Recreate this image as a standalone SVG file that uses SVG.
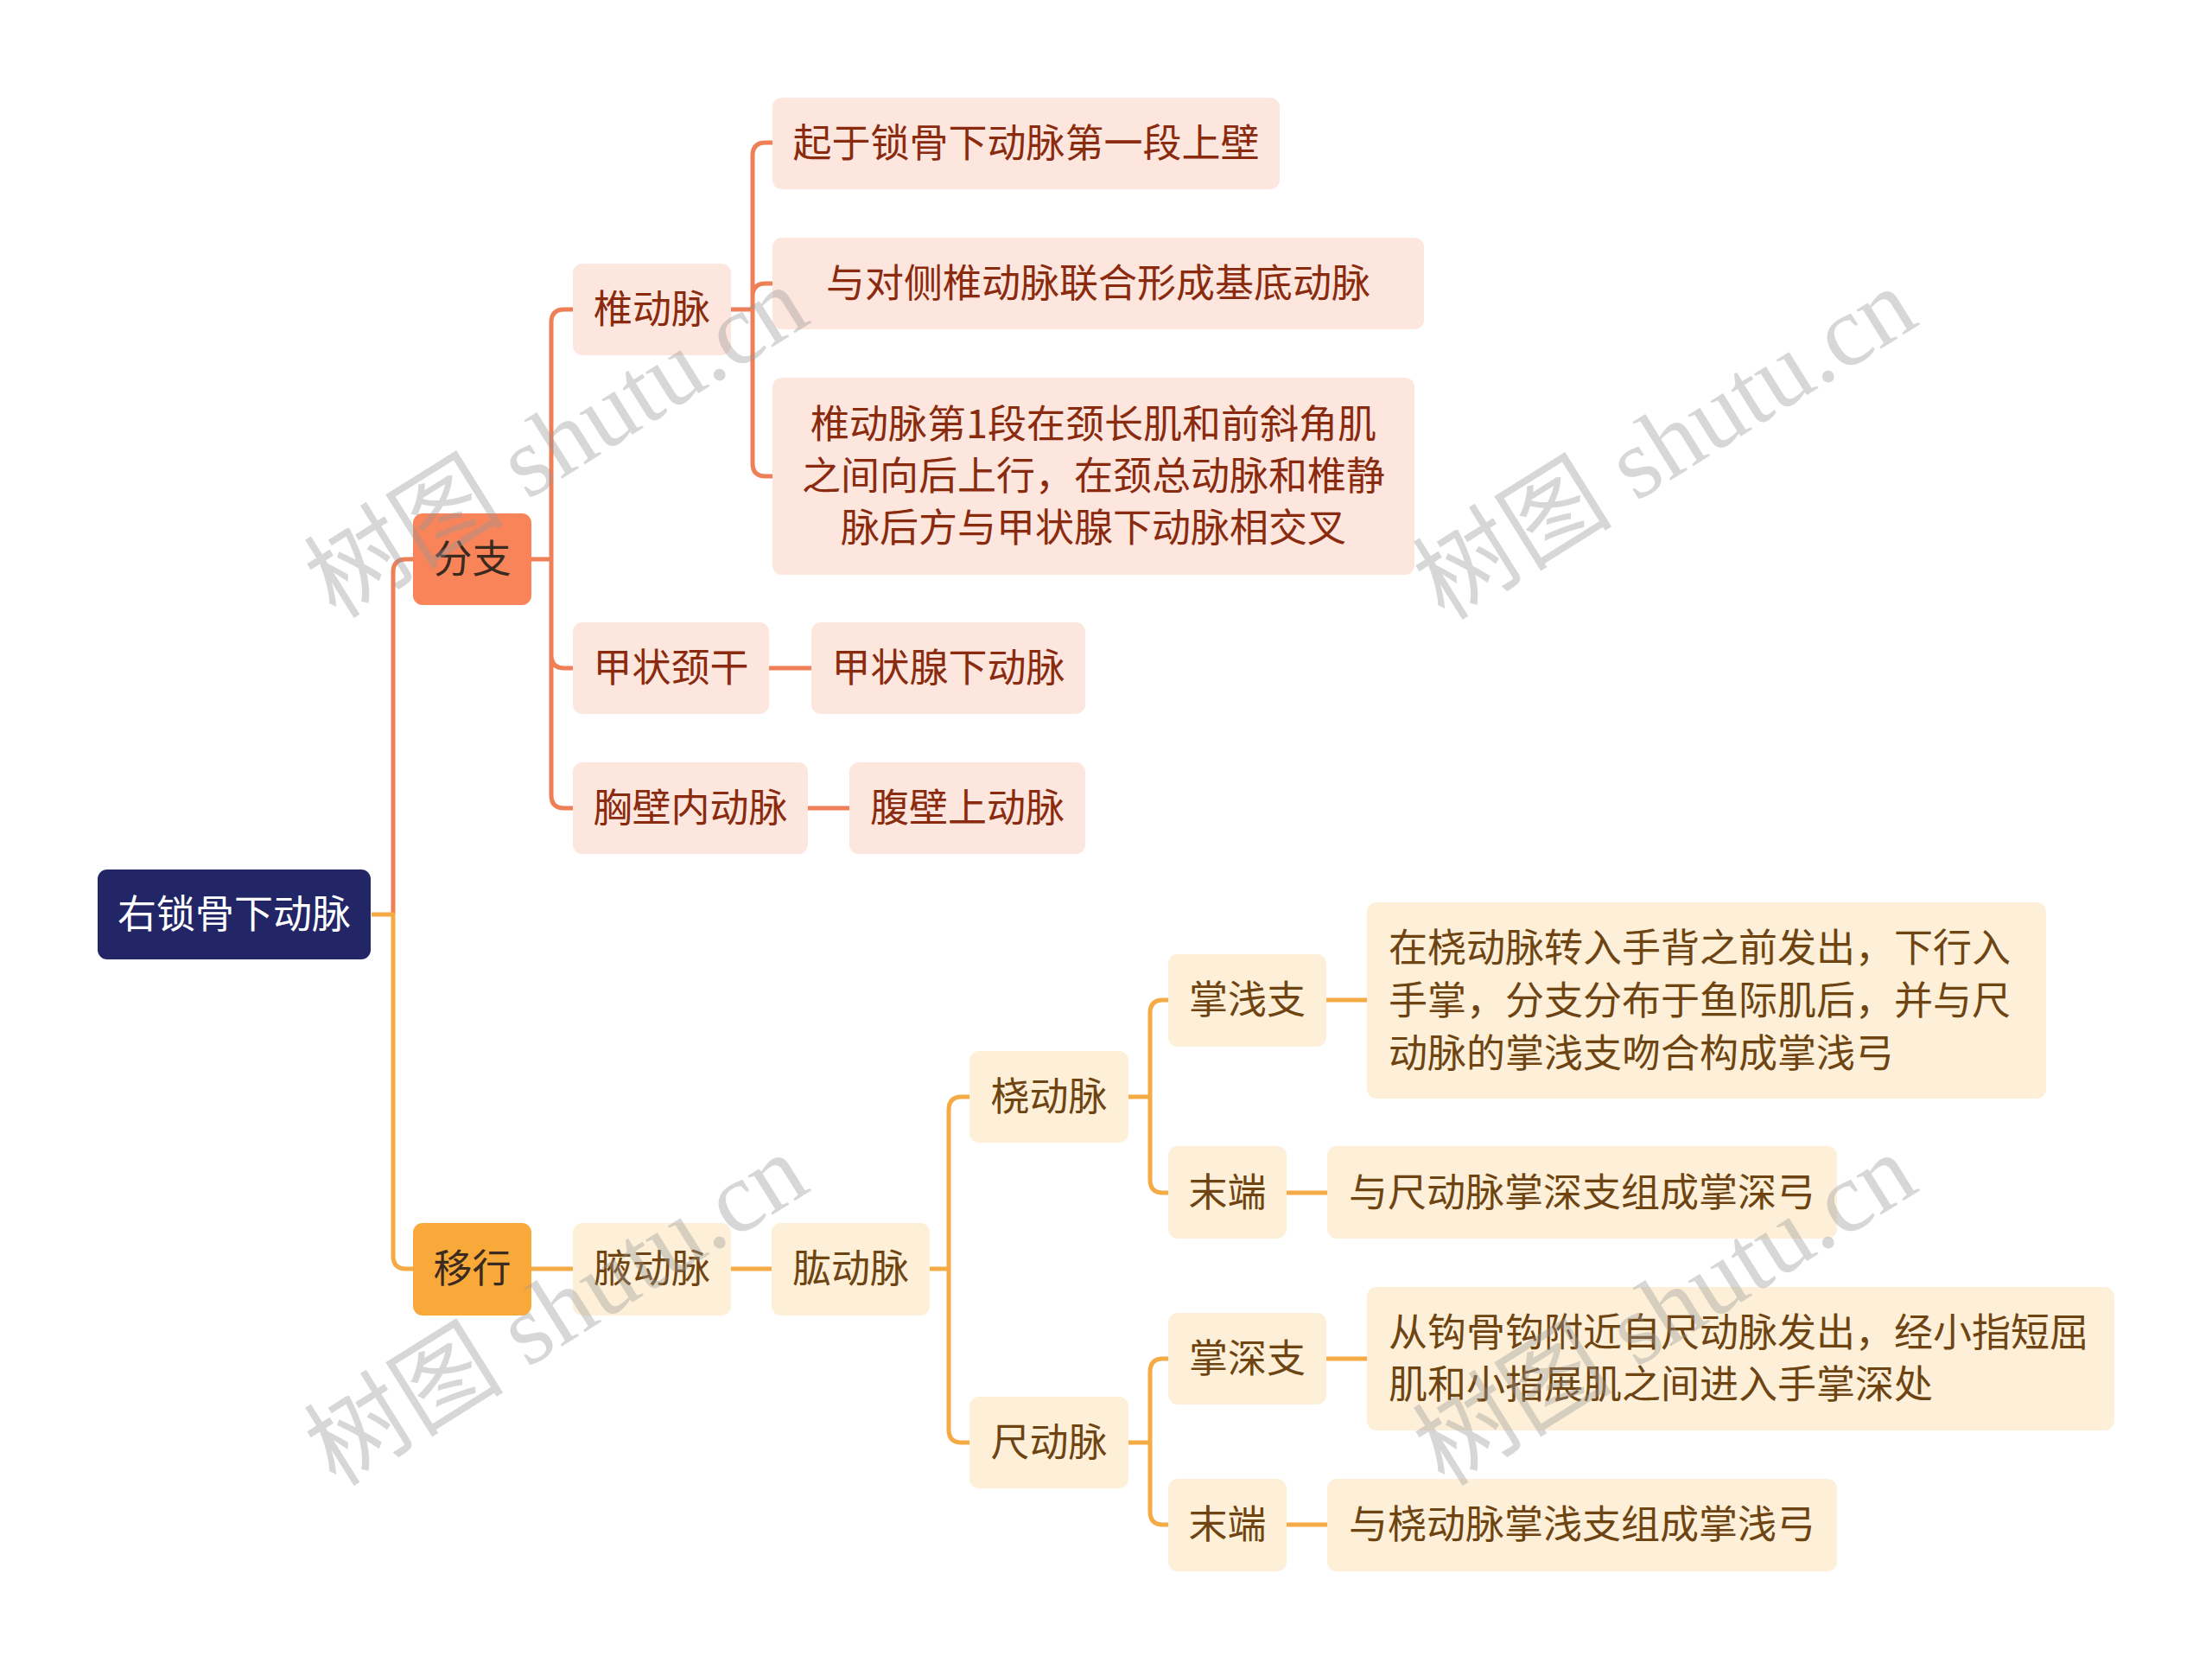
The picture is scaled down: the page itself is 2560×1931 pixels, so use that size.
<svg xmlns="http://www.w3.org/2000/svg" width="2560" height="1931" viewBox="0 0 2560 1931">
<style>
.t{font-family:"Noto Sans CJK SC","Noto Sans",sans-serif;font-size:45px;text-anchor:middle}
.tl{font-family:"Noto Sans CJK SC","Noto Sans",sans-serif;font-size:45px;text-anchor:start}
.root{fill:#222566}
.rt{fill:#ffffff}
.l1a{fill:#FA8459}
.l1b{fill:#F9A93A}
.l1t{fill:#3a2a20}
.pa{fill:#FDE6DD}
.pat{fill:#8A2A0E}
.pb{fill:#FEF0D8}
.pbt{fill:#6E4512}
.ca{fill:none;stroke:#EE7F57;stroke-width:5}
.cb{fill:none;stroke:#F5AB45;stroke-width:5}
.wm{font-family:"Liberation Serif","Noto Sans CJK SC",serif;font-size:116px;fill:#969696;fill-opacity:0.38;text-anchor:middle}
</style>
<rect width="2560" height="1931" fill="#ffffff"/>
<g id="connectors">
<path class="ca" d="M455 1058 V662 Q455 647 470 647 H478"/>
<path class="cb" d="M430 1058 H455 V1453 Q455 1468 470 1468 H478"/>
<path class="ca" d="M615 647 H638 M638 647 V373 Q638 358 653 358 H663 M638 647 V758 Q638 773 653 773 H663 M638 647 V920 Q638 935 653 935 H663"/>
<path class="ca" d="M846 358 H871 M871 358 V180 Q871 165 886 165 H894 M871 358 V343 Q871 328 886 328 H894 M871 358 V536 Q871 551 886 551 H894"/>
<path class="ca" d="M890 773 H939 M935 935 H983"/>
<path class="cb" d="M615 1468 H663 M846 1468 H893 M1076 1468 H1098 M1098 1468 V1284 Q1098 1269 1113 1269 H1122 M1098 1468 V1654 Q1098 1669 1113 1669 H1122"/>
<path class="cb" d="M1306 1269 H1331 M1331 1269 V1172 Q1331 1157 1346 1157 H1352 M1331 1269 V1365 Q1331 1380 1346 1380 H1352"/>
<path class="cb" d="M1306 1669 H1331 M1331 1669 V1587 Q1331 1572 1346 1572 H1352 M1331 1669 V1749 Q1331 1764 1346 1764 H1352"/>
<path class="cb" d="M1535 1157 H1582 M1489 1380 H1536 M1535 1572 H1582 M1489 1764 H1536"/>
</g>
<g id="n-root"><rect class="root" x="113" y="1006" width="316" height="104" rx="11"/><text class="t rt" x="271" y="1074">右锁骨下动脉</text></g>
<g id="n-fenzhi"><rect class="l1a" x="478" y="594" width="137" height="106" rx="11"/><text class="t l1t" x="546.5" y="663">分支</text></g>
<g id="n-yixing"><rect class="l1b" x="478" y="1415" width="137" height="107" rx="11"/><text class="t l1t" x="546.5" y="1484">移行</text></g>
<g id="n-zhui"><rect class="pa" x="663" y="305" width="183" height="106" rx="11"/><text class="t pat" x="754.5" y="374">椎动脉</text></g>
<g id="n-jzjg"><rect class="pa" x="663" y="720" width="227" height="106" rx="11"/><text class="t pat" x="776.5" y="789">甲状颈干</text></g>
<g id="n-xbnd"><rect class="pa" x="663" y="882" width="272" height="106" rx="11"/><text class="t pat" x="799" y="951">胸壁内动脉</text></g>
<g id="n-z1"><rect class="pa" x="894" y="113" width="587" height="106" rx="11"/><text class="t pat" x="1187.5" y="182">起于锁骨下动脉第一段上壁</text></g>
<g id="n-z2"><rect class="pa" x="894" y="275" width="754" height="106" rx="11"/><text class="t pat" x="1271" y="344">与对侧椎动脉联合形成基底动脉</text></g>
<g id="n-z3"><rect class="pa" x="894" y="437" width="743" height="228" rx="11"/><text class="t pat" x="1265.5" y="507">椎动脉第1段在颈长肌和前斜角肌</text><text class="t pat" x="1265.5" y="567">之间向后上行，在颈总动脉和椎静</text><text class="t pat" x="1265.5" y="627">脉后方与甲状腺下动脉相交叉</text></g>
<g id="n-jzxxd"><rect class="pa" x="939" y="720" width="317" height="106" rx="11"/><text class="t pat" x="1097.5" y="789">甲状腺下动脉</text></g>
<g id="n-fbsd"><rect class="pa" x="983" y="882" width="273" height="106" rx="11"/><text class="t pat" x="1119.5" y="951">腹壁上动脉</text></g>
<g id="n-ye"><rect class="pb" x="663" y="1415" width="183" height="107" rx="11"/><text class="t pbt" x="754.5" y="1484">腋动脉</text></g>
<g id="n-gong"><rect class="pb" x="893" y="1415" width="183" height="107" rx="11"/><text class="t pbt" x="984.5" y="1484">肱动脉</text></g>
<g id="n-rao"><rect class="pb" x="1122" y="1216" width="184" height="106" rx="11"/><text class="t pbt" x="1214" y="1285">桡动脉</text></g>
<g id="n-chi"><rect class="pb" x="1122" y="1616" width="184" height="106" rx="11"/><text class="t pbt" x="1214" y="1685">尺动脉</text></g>
<g id="n-zqz"><rect class="pb" x="1352" y="1104" width="183" height="107" rx="11"/><text class="t pbt" x="1443.5" y="1173">掌浅支</text></g>
<g id="n-md1"><rect class="pb" x="1352" y="1326" width="137" height="107" rx="11"/><text class="t pbt" x="1420.5" y="1396">末端</text></g>
<g id="n-zsz"><rect class="pb" x="1352" y="1519" width="183" height="106" rx="11"/><text class="t pbt" x="1443.5" y="1588">掌深支</text></g>
<g id="n-md2"><rect class="pb" x="1352" y="1711" width="137" height="107" rx="11"/><text class="t pbt" x="1420.5" y="1780">末端</text></g>
<g id="n-zqzd"><rect class="pb" x="1582" y="1044" width="786" height="227" rx="11"/><text class="tl pbt" x="1607" y="1113">在桡动脉转入手背之前发出，下行入</text><text class="tl pbt" x="1607" y="1174">手掌，分支分布于鱼际肌后，并与尺</text><text class="tl pbt" x="1607" y="1235">动脉的掌浅支吻合构成掌浅弓</text></g>
<g id="n-md1d"><rect class="pb" x="1536" y="1326" width="590" height="107" rx="11"/><text class="t pbt" x="1831" y="1396">与尺动脉掌深支组成掌深弓</text></g>
<g id="n-zszd"><rect class="pb" x="1582" y="1489" width="865" height="166" rx="11"/><text class="tl pbt" x="1607" y="1558">从钩骨钩附近自尺动脉发出，经小指短屈</text><text class="tl pbt" x="1607" y="1618">肌和小指展肌之间进入手掌深处</text></g>
<g id="n-md2d"><rect class="pb" x="1536" y="1711" width="590" height="107" rx="11"/><text class="t pbt" x="1831" y="1780">与桡动脉掌浅支组成掌浅弓</text></g>
<g id="watermarks">
<text class="wm" x="643" y="551" transform="rotate(-32 643 510)">树图 shutu.cn</text>
<text class="wm" x="1926" y="553" transform="rotate(-32 1926 512)">树图 shutu.cn</text>
<text class="wm" x="643" y="1555" transform="rotate(-32 643 1514)">树图 shutu.cn</text>
<text class="wm" x="1926" y="1555" transform="rotate(-32 1926 1514)">树图 shutu.cn</text>
</g>
</svg>
